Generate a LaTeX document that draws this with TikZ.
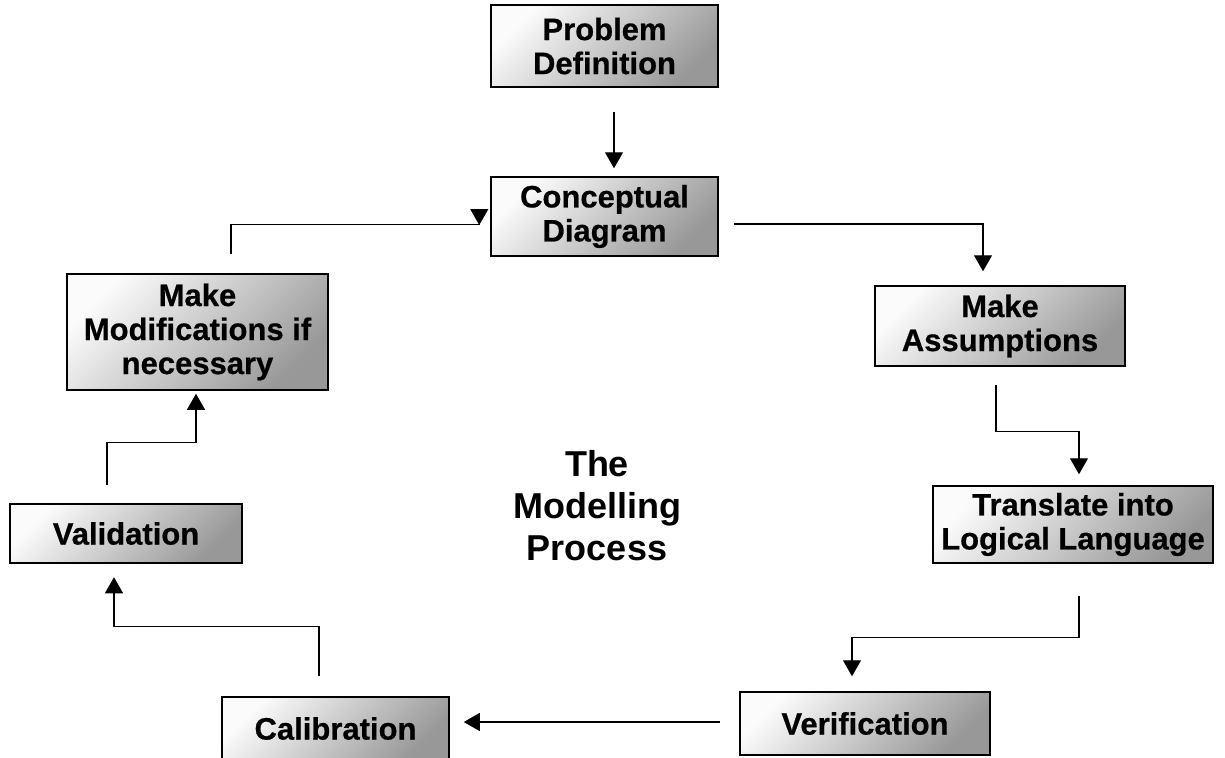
\documentclass[tikz,border=0pt]{standalone}
\usepackage{fontspec}
\setmainfont{Liberation Sans}
\newfontfamily\heavyfont[BoldFeatures={FakeBold=0.6}]{Liberation Sans}
\usetikzlibrary{arrows.meta,calc}
\definecolor{boxlight}{HTML}{FBFBFB}
\definecolor{boxmid}{HTML}{E0E0E0}
\definecolor{boxdark}{HTML}{989898}
\tikzset{
  stepbox/.style={draw=black, line width=1.5pt, shading=axis, top color=boxlight, middle color=boxmid, bottom color=boxdark, shading angle=45,
    inner sep=0pt, align=center, font=\fontsize{31}{34}\heavyfont\bfseries},
  arr/.style={draw=black, line width=1.1pt, -{Triangle[width=18pt,length=16pt]}},
  title/.style={align=center, font=\fontsize{36}{42}\selectfont\bfseries}
}
\begin{document}
\begin{tikzpicture}[x=1pt,y=-1pt]
\useasboundingbox (0,0) rectangle (1225,757);
\clip (0,0) rectangle (1225,757);
\fill[white] (0,0) rectangle (1225,757);

\node[stepbox, minimum width=227pt, minimum height=82pt] (prob) at (604.5,46) {Problem\\Definition};
\node[stepbox, minimum width=227pt, minimum height=79pt] (conc) at (604.5,216.5) {Conceptual\\Diagram};
\node[stepbox, minimum width=250pt, minimum height=80pt] (assum) at (1000,326) {Make\\Assumptions};
\node[stepbox, minimum width=280pt, minimum height=77pt] (trans) at (1073,524.5) {Translate into\\Logical Language};
\node[stepbox, minimum width=250pt, minimum height=63pt] (verif) at (865,723.5) {Verification};
\node[stepbox, minimum width=227pt, minimum height=63pt] (calib) at (335.5,728.5) {Calibration};
\node[stepbox, minimum width=232pt, minimum height=59pt] (valid) at (126,533.5) {Validation};
\node[stepbox, minimum width=261pt, minimum height=116pt] (modif) at (197.5,332) {Make\\Modifications if\\necessary};

\node[title] (ttl) at (597,506) {The\\Modelling\\Process};

% connectors
\draw[arr] ([xshift=9.5pt,yshift=-24pt]prob.south) -- ([xshift=9.5pt,yshift=8pt]conc.north);
\draw[arr] ([xshift=15pt,yshift=-7.5pt]conc.east) -| ([xshift=-17pt,yshift=14pt]assum.north);
\draw[arr] ([xshift=-4pt,yshift=-18pt]assum.south) -- ++(0,47) -| ([xshift=6pt,yshift=11pt]trans.north);
\draw[arr] ([xshift=6pt,yshift=-32pt]trans.south) -- ++(0,42) -| ([xshift=-13pt,yshift=15pt]verif.north);
\draw[arr] ([xshift=-19pt,yshift=1.5pt]verif.west) -- ([xshift=14pt,yshift=6.5pt]calib.east);
\draw[arr] ([xshift=-16.5pt,yshift=20pt]calib.north) -- ++(0,-50) -| ([xshift=-12pt,yshift=-13.5pt]valid.south);
\draw[arr] ([xshift=-19pt,yshift=18.5pt]valid.north) -- ++(0,-42) -| ([xshift=-1.5pt,yshift=-3pt]modif.south);
\draw[arr] ([xshift=33.5pt,yshift=19pt]modif.north) -- ++(0,-30) -| ([xshift=-11pt,yshift=-8.5pt]conc.west);
\end{tikzpicture}
\end{document}
